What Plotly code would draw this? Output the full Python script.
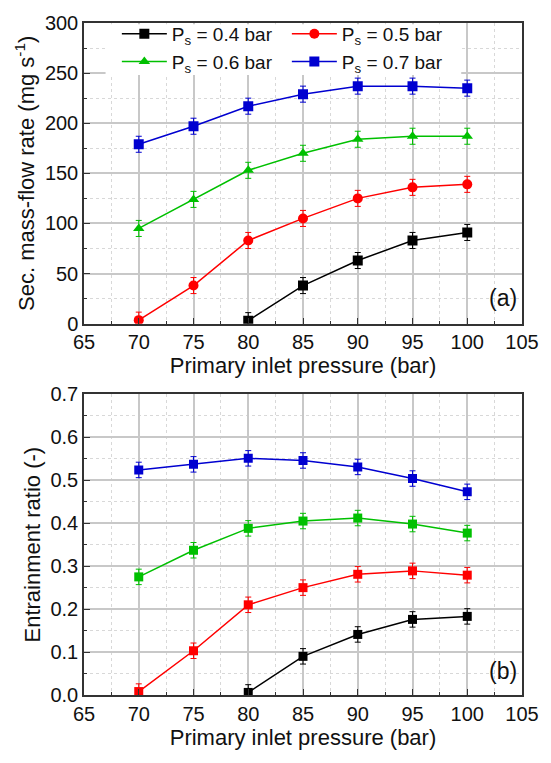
import plotly.graph_objects as go
from plotly.subplots import make_subplots

series_names = ["P<sub>s</sub> = 0.4 bar", "P<sub>s</sub> = 0.5 bar",
                "P<sub>s</sub> = 0.6 bar", "P<sub>s</sub> = 0.7 bar"]
colors = ["#000000", "#FF0000", "#00C000", "#0000D0"]
symbols_a = ["square", "circle", "triangle-up", "square"]

# (a) secondary mass-flow rate (mg/s)
x_04 = [80, 85, 90, 95, 100]
m_04 = [3, 38, 63, 83, 91]
x_05 = [70, 75, 80, 85, 90, 95, 100]
m_05 = [3.5, 38, 83, 105, 125, 136, 139]
x_06 = [70, 75, 80, 85, 90, 95, 100]
m_06 = [95, 124, 153, 170, 184, 187, 187]
x_07 = [70, 75, 80, 85, 90, 95, 100]
m_07 = [179, 197, 217, 229, 237, 237, 235]
m_err = 8

# (b) entrainment ratio (-)
r_04 = [0.006, 0.090, 0.141, 0.176, 0.183]
r_05 = [0.008, 0.103, 0.210, 0.250, 0.281, 0.289, 0.279]
r_06 = [0.275, 0.337, 0.388, 0.405, 0.412, 0.398, 0.377]
r_07 = [0.524, 0.537, 0.551, 0.546, 0.531, 0.504, 0.473]
r_err = 0.018

xs = [x_04, x_05, x_06, x_07]
ms = [m_04, m_05, m_06, m_07]
rs = [r_04, r_05, r_06, r_07]

fig = make_subplots(rows=2, cols=1, vertical_spacing=0.105)

for i in range(4):
    fig.add_trace(go.Scatter(
        x=xs[i], y=ms[i], mode="lines+markers", name=series_names[i],
        line=dict(color=colors[i], width=1.5),
        marker=dict(symbol=symbols_a[i], size=10, color=colors[i]),
        error_y=dict(type="constant", value=m_err, color=colors[i],
                     thickness=1, width=3),
    ), row=1, col=1)
    fig.add_trace(go.Scatter(
        x=xs[i], y=rs[i], mode="lines+markers", name=series_names[i],
        line=dict(color=colors[i], width=1.5),
        marker=dict(symbol="square", size=9, color=colors[i]),
        error_y=dict(type="constant", value=r_err, color=colors[i],
                     thickness=1, width=3),
        showlegend=False,
    ), row=2, col=1)

font_family = "Liberation Sans, Arial, sans-serif"
axis_common = dict(
    showline=True, linecolor="#333333", linewidth=1.5, mirror=True,
    ticks="inside", ticklen=6, tickcolor="#333333", tickwidth=1,
    showgrid=True, gridcolor="#C8C8C8", gridwidth=1.5,
    minor=dict(ticks="inside", ticklen=3, tickcolor="#333333",
               showgrid=True, gridcolor="#D8D8D8", griddash="dot", gridwidth=1),
    tickfont=dict(size=20, color="#111111", family=font_family),
    zeroline=False,
)
title_font = dict(size=22, family=font_family, color="#111111")

for r in (1, 2):
    fig.update_xaxes(axis_common, row=r, col=1)
    fig.update_xaxes(range=[65, 105], dtick=5, tick0=65,
                     minor=dict(dtick=2.5),
                     title=dict(text="Primary inlet pressure (bar)",
                                font=title_font, standoff=4),
                     row=r, col=1)
    fig.update_yaxes(axis_common, row=r, col=1)

fig.update_yaxes(range=[0, 300], dtick=50, tick0=0, minor=dict(dtick=25),
                 title=dict(text="Sec. mass-flow rate (mg s<sup>-1</sup>)",
                            font=title_font, standoff=4),
                 row=1, col=1)
fig.update_yaxes(range=[0, 0.7], dtick=0.1, tick0=0, minor=dict(dtick=0.05),
                 tickformat=".1f",
                 title=dict(text="Entrainment ratio (-)",
                            font=title_font, standoff=4),
                 row=2, col=1)

# white box behind the legend hiding the grid (kept just below the frame line)
legend_box = dict(type="rect", xref="x", yref="y",
                  x0=66.97, x1=99.45, y0=248, y1=298.8,
                  fillcolor="#FFFFFF", opacity=1, layer="above",
                  line=dict(width=0, color="#FFFFFF"))

fig.update_layout(
    width=551, height=763,
    margin=dict(l=84, r=19, t=20, b=68),
    plot_bgcolor="white", paper_bgcolor="white",
    font=dict(family=font_family, size=19, color="#111111"),
    yaxis=dict(domain=[0.5526, 1.0]),
    yaxis2=dict(domain=[0.0, 0.4474]),
    legend=dict(orientation="h", x=0.075, y=1.012, xanchor="left", yanchor="top",
                bgcolor="rgba(255,255,255,0)", borderwidth=0, entrywidth=110,
                entrywidthmode="pixels",
                font=dict(size=19, family=font_family, color="#111111"),
                itemwidth=45, tracegroupgap=0),
    showlegend=True,
    shapes=[legend_box],
)

fig.add_annotation(text="(a)", xref="x", yref="y", x=104.7, y=11,
                   xanchor="right", yanchor="bottom", showarrow=False,
                   font=dict(size=23, family=font_family, color="#111111"))
fig.add_annotation(text="(b)", xref="x2", yref="y2", x=104.7, y=0.022,
                   xanchor="right", yanchor="bottom", showarrow=False,
                   font=dict(size=23, family=font_family, color="#111111"))

fig.write_html("out.html")
